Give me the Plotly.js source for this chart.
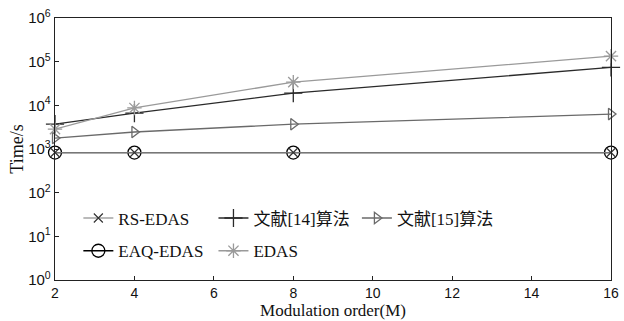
<!DOCTYPE html>
<html>
<head>
<meta charset="utf-8">
<script src="https://cdn.plot.ly/plotly-3.0.1.min.js"></script>
<style>html,body{margin:0;padding:0;background:#fff;}#chart{width:624px;height:321px;}</style>
</head>
<body>
<div id="chart"></div>
<script>
// Data
const modOrder = [2, 4, 8, 16];
const rsEdas   = [830, 830, 830, 830];
const ref14    = [3700, 6600, 19000, 74000];
const ref15    = [1780, 2450, 3700, 6300];
const eaqEdas  = [830, 830, 830, 830];
const edas     = [2850, 8700, 34000, 134000];
const names = ['RS-EDAS', '文献[14]算法', '文献[15]算法', 'EAQ-EDAS', 'EDAS'];
const yTickVals = [1, 10, 100, 1000, 10000, 100000, 1000000];
const yTickText = ['10<sup>0</sup>', '10<sup>1</sup>', '10<sup>2</sup>', '10<sup>3</sup>', '10<sup>4</sup>', '10<sup>5</sup>', '10<sup>6</sup>'];
const xTickVals = [2, 4, 6, 8, 10, 12, 14, 16];

const common = {type: 'scatter', mode: 'lines+markers', x: modOrder, cliponaxis: false};
const traces = [
  Object.assign({}, common, {y: eaqEdas, name: names[3], legend: 'legend4',
    line: {color: '#000', width: 1.3},
    marker: {symbol: 'circle-open', size: 13, color: '#000', line: {width: 1.3, color: '#000'}}}),
  Object.assign({}, common, {y: rsEdas, name: names[0], legend: 'legend',
    line: {color: '#777', width: 1.2},
    marker: {symbol: 'x-thin-open', size: 9, color: '#333', line: {width: 1.2, color: '#333'}}}),
  Object.assign({}, common, {y: ref15, name: names[2], legend: 'legend3',
    line: {color: '#6a6a6a', width: 1.3},
    marker: {symbol: 'triangle-right-open', size: 10, color: '#6a6a6a', line: {width: 1.3, color: '#6a6a6a'}}}),
  Object.assign({}, common, {y: ref14, name: names[1], legend: 'legend2',
    line: {color: '#2a2a2a', width: 1.3},
    marker: {symbol: 'cross-thin-open', size: 13, color: '#2a2a2a', line: {width: 1.3, color: '#2a2a2a'}}}),
  Object.assign({}, common, {y: edas, name: names[4], legend: 'legend5',
    line: {color: '#9a9a9a', width: 1.3},
    marker: {symbol: 'asterisk-open', size: 12, color: '#9a9a9a', line: {width: 1.3, color: '#9a9a9a'}}})
];

const legFont = {family: 'Liberation Serif, Noto Sans CJK SC, serif', size: 17, color: '#111'};
function leg(x, y) {
  return {x: x, y: y, xref: 'paper', yref: 'paper', xanchor: 'left', yanchor: 'middle',
    bgcolor: 'rgba(0,0,0,0)', borderwidth: 0, font: legFont, itemwidth: 30, tracegroupgap: 0};
}
const layout = {
  width: 624, height: 321,
  margin: {l: 55, r: 13, t: 18, b: 41},
  paper_bgcolor: '#fff', plot_bgcolor: '#fff',
  showlegend: true,
  xaxis: {
    range: [2, 16], tickvals: xTickVals, ticks: 'inside', ticklen: 4, tickcolor: '#222',
    showline: true, linecolor: '#222', linewidth: 1.3, mirror: true, showgrid: false, zeroline: false,
    tickfont: {family: 'Liberation Sans, Arial, sans-serif', size: 14, color: '#111'},
    title: {text: 'Modulation order(M)', standoff: 2, font: {family: 'Liberation Serif, serif', size: 17, color: '#111'}}
  },
  yaxis: {
    type: 'log', range: [0, 6], tickvals: yTickVals, ticktext: yTickText, ticks: 'inside', ticklen: 4, tickcolor: '#222',
    showline: true, linecolor: '#222', linewidth: 1.3, mirror: true, showgrid: false, zeroline: false,
    tickfont: {family: 'Liberation Sans, Arial, sans-serif', size: 15, color: '#111'},
    title: {text: 'Time/s', standoff: 0, font: {family: 'Liberation Serif, serif', size: 18, color: '#111'}}
  },
  legend: leg(0.042, 0.235),
  legend2: leg(0.285, 0.235),
  legend3: leg(0.543, 0.235),
  legend4: leg(0.042, 0.11),
  legend5: leg(0.285, 0.11)
};
Plotly.newPlot('chart', traces, layout, {displayModeBar: false, staticPlot: true});
</script>
</body>
</html>
